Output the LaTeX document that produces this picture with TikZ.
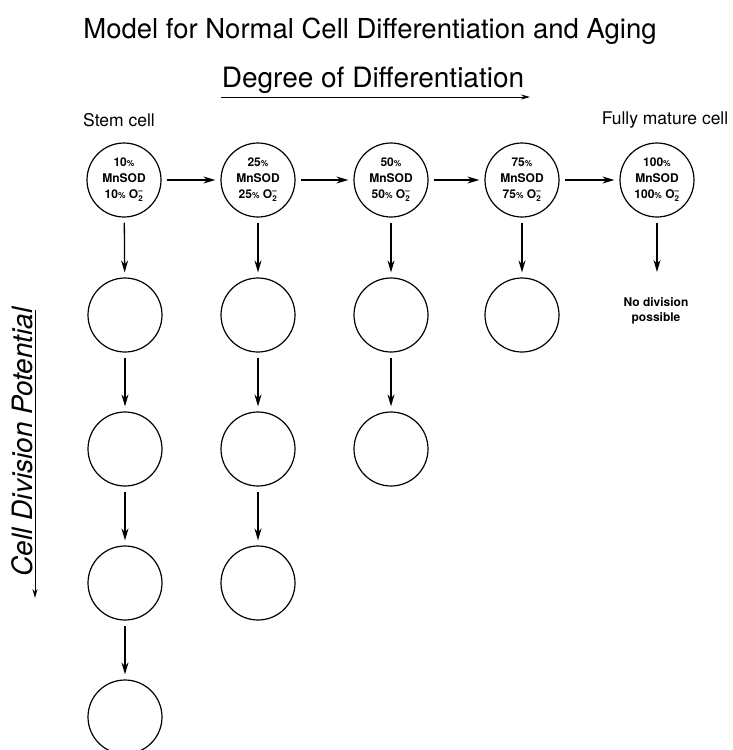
\documentclass[tikz,border=0pt]{standalone}
\usepackage{fontspec}
\usepackage{amsmath}
\setmainfont{TeX Gyre Heros}
\usetikzlibrary{arrows.meta}
\begin{document}
\begin{tikzpicture}[x=1pt,y=-1pt,
  cell/.style={circle,draw,line width=1.2pt,minimum size=74pt,inner sep=0pt},
  celltxt/.style={cell,align=center,font=\fontsize{12}{16}\selectfont\bfseries},
  arr/.style={line width=1.3pt,-{Stealth[length=12pt,width=7pt]},shorten <=5pt,shorten >=5pt},
  axisarr/.style={line width=1pt,-{Stealth[length=9pt,width=5pt]}},
  lbl/.style={inner sep=0pt,anchor=center}]
\useasboundingbox (0,0) rectangle (733,750);
% title and labels
\node[lbl,font=\fontsize{27.5}{30}\selectfont] (title) at (370,31) {Model for Normal Cell Differentiation and Aging};
\node[lbl,font=\fontsize{28}{30}\selectfont] (deg) at (373,80) {Degree of Differentiation};
\coordinate (dl) at (221,97);
\coordinate (dr) at (530,97);
\draw[axisarr] (dl) -- (dr);
\node[lbl,font=\fontsize{17.5}{20}\selectfont] (stem) at (119,120) {Stem cell};
\node[lbl,font=\fontsize{17.5}{20}\selectfont] (mature) at (665,120) {Fully mature cell};
\node[lbl,rotate=90,font=\fontsize{28}{30}\itshape\selectfont] (cdp) at (22,442) {Cell Division Potential};
\coordinate (vt) at (35,310);
\coordinate (vb) at (35,598);
\draw[axisarr] (vt) -- (vb);
% top row
\node[celltxt] (c11) at (124,180) {10{\fontsize{8.5}{9}\selectfont\%}\\MnSOD\\10{\fontsize{8.5}{9}\selectfont\%} $\text{O}_{\text{2}}^{\text{--}}$};
\node[celltxt] (c12) at (258,180) {25{\fontsize{8.5}{9}\selectfont\%}\\MnSOD\\25{\fontsize{8.5}{9}\selectfont\%} $\text{O}_{\text{2}}^{\text{--}}$};
\node[celltxt] (c13) at (391,180) {50{\fontsize{8.5}{9}\selectfont\%}\\MnSOD\\50{\fontsize{8.5}{9}\selectfont\%} $\text{O}_{\text{2}}^{\text{--}}$};
\node[celltxt] (c14) at (522,180) {75{\fontsize{8.5}{9}\selectfont\%}\\MnSOD\\75{\fontsize{8.5}{9}\selectfont\%} $\text{O}_{\text{2}}^{\text{--}}$};
\node[celltxt] (c15) at (657,180) {100{\fontsize{8.5}{9}\selectfont\%}\\MnSOD\\100{\fontsize{8.5}{9}\selectfont\%} $\text{O}_{\text{2}}^{\text{--}}$};
% lower rows
\node[cell] (c21) at (125,315) {};
\node[cell] (c31) at (125,449) {};
\node[cell] (c41) at (125,583) {};
\node[cell] (c51) at (125,717) {};
\node[cell] (c22) at (258,315) {};
\node[cell] (c32) at (258,449) {};
\node[cell] (c42) at (258,583) {};
\node[cell] (c23) at (391,315) {};
\node[cell] (c33) at (391,449) {};
\node[cell] (c24) at (522,315) {};
% no division
\node[lbl,align=center,font=\fontsize{12}{15}\bfseries\selectfont] (nodiv) at (656,311) {No division\\possible};
\coordinate (nd) at (657,272);
% horizontal arrows
\draw[arr] (c11) -- (c12);
\draw[arr] (c12) -- (c13);
\draw[arr] (c13) -- (c14);
\draw[arr] (c14) -- (c15);
% vertical arrows
\draw[arr] (c11) -- (c21);
\draw[arr] (c21) -- (c31);
\draw[arr] (c31) -- (c41);
\draw[arr] (c41) -- (c51);
\draw[arr] (c12) -- (c22);
\draw[arr] (c22) -- (c32);
\draw[arr] (c32) -- (c42);
\draw[arr] (c13) -- (c23);
\draw[arr] (c23) -- (c33);
\draw[arr] (c14) -- (c24);
\draw[arr,shorten >=0pt] (c15) -- (nd);
\end{tikzpicture}
\end{document}
